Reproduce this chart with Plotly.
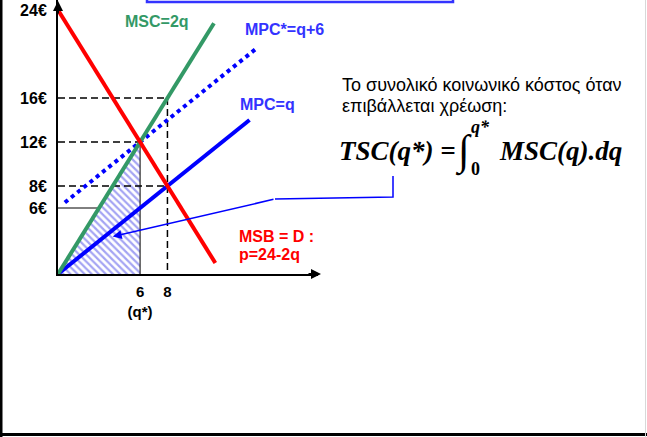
import plotly.graph_objects as go

W, H = 647, 437

# ---- data (economic model values) ----
q_msb = [0, 11.5]; p_msb = [24, 1]          # MSB = D : p = 24 - 2q
q_msc = [0, 11.4]; p_msc = [0, 22.8]        # MSC = 2q
q_mpc = [0, 14.0]; p_mpc = [0, 14.0]        # MPC = q
q_mpcs = [0.5, 14.4]; p_mpcs = [6.5, 20.4]  # MPC* = q + 6
tsc_q = [0, 6, 6, 0]; tsc_p = [0, 12, 0, 0] # area under MSC up to q*

guide_dash = [([0, 8], [16, 16]), ([8, 8], [16, 0]), ([0, 6], [12, 12]), ([0, 8], [8, 8])]
guide_thin = [([0, 3], [6, 6]), ([6, 6], [0, 12])]

y_ticks = [6, 8, 12, 16, 24]
y_text = ["6€", "8€", "12€", "16€", "24€"]
x_ticks = [6, 8]
x_text = ["6<br>(q*)", "8"]

# ---- layout geometry ----
X0, X1 = 58, 318       # pixel extent of x axis
Y0, Y1 = 274, 0        # pixel extent of y axis (bottom, top)
SX, SY = 13.68, 11.0   # px per unit

def px(x):
    return x / W

def py(y):
    return 1 - y / H

ARIAL = "Arial, Liberation Sans, sans-serif"
SERIF = "Times New Roman, Liberation Serif, serif"

fig = go.Figure()

fig.add_trace(go.Scatter(x=tsc_q, y=tsc_p, mode="lines", fill="toself",
                         line=dict(width=0, color="#4a4ae8"),
                         fillpattern=dict(shape="\\", fgcolor="#4a4ae8", bgcolor="white",
                                          size=5, solidity=0.45),
                         hoverinfo="skip", showlegend=False))
for gx, gy in guide_thin:
    fig.add_trace(go.Scatter(x=gx, y=gy, mode="lines", line=dict(color="black", width=1),
                             hoverinfo="skip", showlegend=False))
for gx, gy in guide_dash:
    fig.add_trace(go.Scatter(x=gx, y=gy, mode="lines",
                             line=dict(color="black", width=1.5, dash="7px,4px"),
                             hoverinfo="skip", showlegend=False))

fig.add_trace(go.Scatter(x=q_mpcs, y=p_mpcs, mode="lines", line=dict(color="#0000ff", width=4, dash="dot"),
                         name="MPC*=q+6", showlegend=False))
fig.add_trace(go.Scatter(x=q_mpc, y=p_mpc, mode="lines", line=dict(color="#0000ff", width=4),
                         name="MPC=q", showlegend=False))
fig.add_trace(go.Scatter(x=q_msc, y=p_msc, mode="lines", line=dict(color="#339966", width=4),
                         name="MSC=2q", showlegend=False))
fig.add_trace(go.Scatter(x=q_msb, y=p_msb, mode="lines", line=dict(color="#ff0000", width=4),
                         name="MSB = D", showlegend=False))

fig.update_xaxes(domain=[px(X0), px(X1)], range=[0, (X1 - X0) / SX],
                 showgrid=False, zeroline=False, showline=True, linecolor="black", linewidth=2,
                 tickvals=x_ticks, ticktext=x_text, ticks="", ticklabelstandoff=3,
                 tickfont=dict(family=ARIAL, size=15, color="black", weight="bold"))
fig.update_yaxes(domain=[py(Y0), py(Y1)], range=[0, (Y0 - Y1) / SY],
                 showgrid=False, zeroline=False, showline=True, linecolor="black", linewidth=2,
                 tickvals=y_ticks, ticktext=y_text, ticks="", ticklabelstandoff=6,
                 ticklabeloverflow="allow",
                 tickfont=dict(family=ARIAL, size=16, color="black", weight="bold"))

ann = []
# axis arrowheads
ann.append(dict(x=px(X1 + 3), y=py(Y0), xref="paper", yref="paper", text="", showarrow=True,
                ax=-14, ay=0, arrowhead=2, arrowsize=1, arrowwidth=2, arrowcolor="black"))
ann.append(dict(x=px(X0), y=py(1), xref="paper", yref="paper", text="", showarrow=True,
                ax=0, ay=14, arrowhead=2, arrowsize=1, arrowwidth=2, arrowcolor="black"))

def label(text, x, y, color, size=16, xanchor="left", family=ARIAL, bold=True):
    t = f"<b>{text}</b>" if bold else text
    ann.append(dict(x=px(x), y=py(y), xref="paper", yref="paper", text=t, showarrow=False,
                    xanchor=xanchor, yanchor="middle", font=dict(family=family, size=size, color=color)))

label("MSC=2q", 123, 22, "#339966")
label("MPC*=q+6", 243, 29, "#3333ff")
label("MPC=q", 238, 104, "#3333ff")
label("MSB = D :", 237, 236, "#ff0000")
label("p=24-2q", 237, 254, "#ff0000")

label("Το συνολικό κοινωνικό κόστος όταν", 340, 85, "black", size=18, bold=False)
label("επιβάλλεται χρέωση:", 340, 106, "black", size=18, bold=False)

label("<i>TSC(q*) =</i>", 337, 151, "black", size=27, family=SERIF)
label("∫", 463, 151, "black", size=42, family=SERIF, xanchor="center")
label("<i>q*</i>", 469, 127, "black", size=18, family=SERIF)
label("0", 469, 169, "black", size=18, family=SERIF)
label("<i>MSC(q).dq</i>", 497, 151, "black", size=27, family=SERIF)

# connector from formula to the shaded area
tip_q, tip_p = 4.0, 3.4
tip_x = X0 + tip_q * SX
tip_y = Y0 - tip_p * SY
ann.append(dict(x=tip_q, y=tip_p, xref="x", yref="y", text="", showarrow=True,
                ax=275 - tip_x, ay=199 - tip_y, arrowhead=2, arrowsize=1.2, arrowwidth=1.5,
                arrowcolor="#0000ff"))

shapes = [
    dict(type="path", xref="paper", yref="paper",
         path=f"M {px(393)} {py(176)} L {px(393)} {py(197)} L {px(275)} {py(199)}",
         line=dict(color="#0000ff", width=1.5)),
    # remnant of title box at the top
    dict(type="rect", xref="paper", yref="paper", x0=px(147), x1=px(453), y0=py(2), y1=py(-30),
         line=dict(color="#3333ff", width=2.5)),
    # slide border
    dict(type="line", xref="paper", yref="paper", x0=px(1), x1=px(1), y0=0, y1=1,
         line=dict(color="black", width=3)),
    dict(type="line", xref="paper", yref="paper", x0=0, x1=1, y0=py(434.5), y1=py(434.5),
         line=dict(color="black", width=3)),
    dict(type="line", xref="paper", yref="paper", x0=px(645.5), x1=px(645.5), y0=0, y1=1,
         line=dict(color="#d8d8d8", width=1)),
]

fig.update_layout(width=W, height=H, autosize=False, margin=dict(l=0, r=0, t=0, b=0, pad=0),
                  paper_bgcolor="white", plot_bgcolor="white", showlegend=False,
                  annotations=ann, shapes=shapes, font=dict(family=ARIAL))

fig.write_html("out.html", config={"displayModeBar": False},
               post_script="document.body.style.margin='0px';")
